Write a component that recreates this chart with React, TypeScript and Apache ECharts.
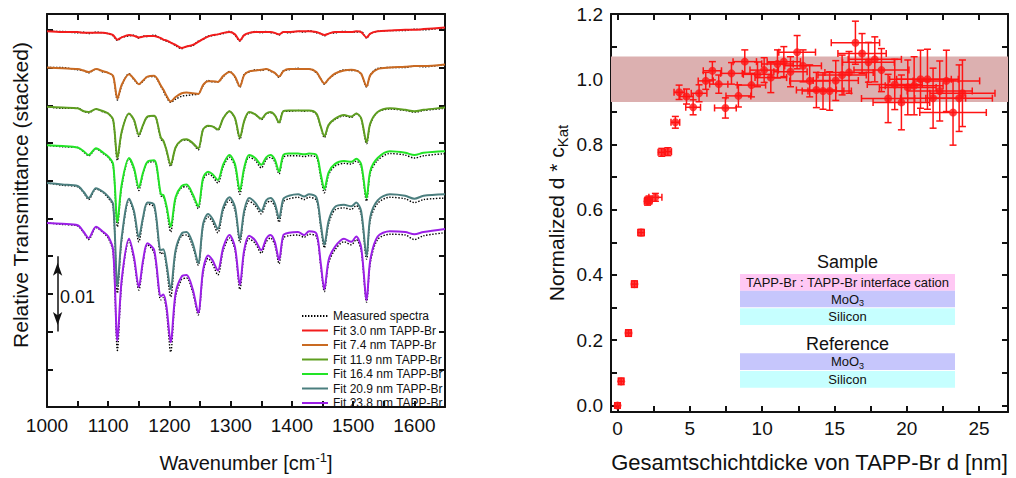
import React, { useEffect, useRef } from 'react';
import * as echarts from 'echarts';

// ---------- Left panel: FTIR spectra (relative transmittance, units of 0.001, stacked) ----------
const wavenumber = [1000,1025,1050,1060,1068,1080,1092,1100,1108,1115,1122,1134,1142,1150,1157,1164,1175,1186,1190,1195,1202,1210,1220,1228,1238,1247,1255,1263,1270,1279,1288,1298,1307,1315,1322,1330,1340,1350,1358,1365,1372,1379,1386,1395,1410,1420,1428,1440,1447,1453,1460,1470,1485,1497,1505,1513,1522,1528,1540,1560,1585,1600,1615,1650];

const fit30 = [49.8,49.7,49.7,49.6,49.6,49.6,49.6,49.5,49.3,48.7, 49.0,49.3,49.2,49.0,49.1,49.2,49.2,48.9,48.7,48.6, 48.3,48.0,47.6,47.8,48.0,48.4,48.8,49.1,49.3,49.4, 49.6,49.7,49.4,48.6,49.3,49.6,49.7,49.7,49.7,49.7, 49.6,49.4,49.7,49.7,49.8,49.8,49.8,49.7,49.5,49.3, 49.5,49.7,49.7,49.7,49.8,49.7,49.0,49.5,49.8,49.9, 50.0,50.0,50.1,50.3];
const meas30 = [49.8,49.8,49.6,49.7,49.5,49.7,49.6,49.5,49.2,48.6, 49.0,49.2,49.3,48.9,49.2,49.1,49.3,48.8,48.7,48.5, 48.3,47.9,47.5,47.8,47.9,48.5,48.7,49.2,49.2,49.4, 49.5,49.8,49.3,48.5,49.3,49.5,49.8,49.6,49.8,49.6, 49.6,49.3,49.7,49.6,49.8,49.7,49.9,49.6,49.5,49.2, 49.5,49.6,49.8,49.7,49.7,49.8,48.9,49.5,49.8,49.9, 49.9,50.1,50.0,50.3];

const fit74 = [45.0,44.9,44.8,44.6,44.4,44.8,44.5,44.3,43.9,40.9, 42.7,44.1,43.5,42.8,43.3,43.8,43.9,42.6,42.1,41.3, 40.5,41.1,41.6,41.7,41.6,41.5,42.7,43.2,43.2,43.1, 43.9,44.4,43.8,42.5,44.0,44.5,44.6,44.7,44.8,44.6, 44.3,43.8,44.5,44.8,44.8,44.8,44.8,44.4,43.5,42.9, 43.5,44.2,44.6,44.7,44.6,44.2,42.5,44.0,44.8,45.0, 45.1,45.2,45.2,45.4];
const meas74 = [45.0,45.0,44.7,44.6,44.3,44.8,44.4,44.3,43.8,40.7, 42.6,44.2,43.4,42.8,43.2,43.8,43.8,42.5,41.9,41.1, 40.4,40.8,41.2,41.3,41.4,41.5,42.6,43.3,43.1,43.1, 43.8,44.5,43.7,42.4,44.1,44.4,44.7,44.6,44.8,44.5, 44.3,43.7,44.6,44.7,44.9,44.8,44.8,44.3,43.5,42.8, 43.5,44.1,44.7,44.6,44.6,44.1,42.4,44.0,44.9,45.0, 45.0,45.2,45.1,45.4];

const fit119 = [39.8,39.7,39.6,39.2,39.1,39.5,39.2,38.9,38.1,33.0, 36.5,38.9,38.1,36.1,37.4,38.5,38.6,35.7,35.3,34.1, 32.1,34.4,35.4,35.5,35.0,34.3,36.8,37.3,37.2,36.8, 38.3,39.2,38.3,35.7,37.9,39.1,38.8,38.2,38.9,39.1, 38.7,37.7,39.2,39.3,39.3,39.3,39.3,38.9,37.2,35.9, 37.4,38.2,38.7,38.5,38.9,38.3,35.1,37.6,39.1,39.6, 39.4,39.2,39.4,39.7];
const meas119 = [39.8,39.6,39.6,39.2,39.0,39.5,39.1,38.9,38.0,32.7, 36.4,38.9,38.0,35.9,37.4,38.4,38.6,35.5,35.2,34.0, 31.9,34.4,35.3,35.4,34.9,34.1,36.8,37.2,37.2,36.7, 38.3,39.2,38.2,35.5,37.9,39.0,38.8,38.1,38.9,39.0, 38.7,37.6,39.2,39.2,39.3,39.2,39.3,38.8,37.1,35.7, 37.4,38.1,38.6,38.4,38.9,38.2,34.9,37.5,39.1,39.5, 39.3,39.1,39.3,39.6];

const fit164 = [34.7,34.6,34.4,33.9,33.4,34.3,33.7,33.2,32.2,24.5, 29.5,33.0,31.7,29.1,31.1,32.5,32.7,28.2,28.1,26.7, 23.9,27.8,29.3,29.5,28.2,26.6,30.4,31.2,30.9,30.1, 32.2,33.4,32.2,28.7,31.7,33.4,33.0,32.1,33.1,33.4, 32.8,31.2,33.4,33.6,33.6,33.5,33.6,33.4,30.9,28.9, 31.1,32.2,32.6,32.5,32.9,32.2,27.7,31.3,33.0,33.9, 33.7,33.4,33.7,33.9];
const meas164 = [34.7,34.5,34.4,33.8,33.3,34.2,33.6,33.1,32.0,23.9, 29.2,32.9,31.5,28.7,31.0,32.4,32.5,28.0,27.9,26.4, 23.2,27.6,29.1,29.2,28.0,26.3,30.1,30.9,30.6,29.7, 31.9,33.1,31.9,28.2,31.4,33.1,32.7,31.7,32.8,33.1, 32.5,30.9,33.1,33.3,33.3,33.2,33.3,33.1,30.5,28.4, 30.8,31.9,32.3,32.2,32.6,31.9,27.3,31.0,32.7,33.6, 33.4,33.0,33.3,33.6];

const fit209 = [29.7,29.5,29.3,28.5,27.7,29.0,28.5,27.9,26.9,16.0, 22.5,27.6,26.0,22.5,25.2,27.1,26.8,20.8,20.9,19.1, 15.6,20.8,23.0,23.2,21.7,19.1,24.3,25.6,25.0,23.6, 26.5,27.8,26.5,22.2,26.0,27.7,27.1,26.0,27.4,27.7, 27.0,25.0,27.6,28.0,28.2,27.9,28.2,27.8,24.3,21.5, 24.7,26.5,26.8,26.6,27.1,26.0,20.0,25.2,27.4,28.2, 28.0,27.6,28.0,28.2];
const meas209 = [29.7,29.4,29.2,28.4,27.5,28.9,28.4,27.7,26.6,15.1, 22.1,27.4,25.7,21.9,25.0,26.9,26.5,20.3,20.5,18.6, 14.6,20.4,22.7,22.8,21.3,18.8,24.0,25.2,24.6,23.1, 26.1,27.4,26.1,21.8,25.6,27.3,26.7,25.6,27.0,27.3, 26.6,24.5,27.2,27.6,27.8,27.5,27.8,27.4,23.9,21.1, 24.3,26.1,26.4,26.2,26.7,25.6,19.6,24.8,27.0,27.8, 27.6,27.1,27.5,27.7];

const fit238 = [24.4,24.3,24.1,23.2,22.4,23.9,23.2,22.6,20.8,8.8, 16.9,22.3,19.9,15.9,19.5,21.7,20.8,14.7,14.9,13.4, 8.6,15.1,17.3,17.5,15.6,12.5,18.2,20.1,19.5,18.1, 21.2,22.8,21.2,16.2,20.8,22.7,22.1,20.8,22.3,22.8, 21.9,19.5,22.8,23.1,23.2,22.8,23.3,23.0,19.1,15.6, 19.5,21.2,22.3,21.9,22.6,21.2,14.2,19.5,22.6,23.3, 23.2,22.9,23.2,23.6];
const meas238 = [24.4,24.2,24.0,23.1,22.2,23.8,23.1,22.4,20.5,7.5, 16.4,22.1,19.5,15.5,19.2,21.5,20.4,14.2,14.5,12.8, 7.3,14.6,16.9,17.1,15.2,12.2,17.8,19.7,19.0,17.5, 20.8,22.4,20.8,15.6,20.4,22.3,21.7,20.4,21.9,22.4, 21.5,19.0,22.4,22.7,22.8,22.5,22.9,22.6,18.7,15.3, 19.1,20.8,21.9,21.5,22.2,20.8,13.9,19.1,22.2,22.9, 22.8,22.2,22.7,23.1];

const fitNames = ['Fit 3.0 nm TAPP-Br','Fit 7.4 nm TAPP-Br','Fit 11.9 nm TAPP-Br','Fit 16.4 nm TAPP-Br','Fit 20.9 nm TAPP-Br','Fit 23.8 nm TAPP-Br'];
const fitColors = ['#f21c1c','#c96a22','#5e9e20','#22e426','#4b7e7e','#9b1fe6'];
const fitData = [fit30, fit74, fit119, fit164, fit209, fit238];
const measData = [meas30, meas74, meas119, meas164, meas209, meas238];

const wnLabels = [1000,1100,1200,1300,1400,1500,1600];
const wnTicks = [1050,1100,1150,1200,1250,1300,1350,1400,1450,1500,1550,1600];
const transTicks = [5,10,15,20,25,30,35,40,45,50];
const scaleBar = [20, 10]; // 0.01 arrow ends (units of 0.001)

// ---------- Right panel ----------
const thickness = [0.0,0.25,0.76,1.17,1.63,2.08,2.18,2.62,3.06,3.48,4.0, 4.26,4.77,5.23,5.64,6.10,6.56,7.00,7.46,7.88,8.36, 8.80,9.26,9.68,10.14,10.60,11.06,11.50,11.96,12.42,12.83, 13.29,13.75,14.21,14.67,15.09,15.53,16.01,16.45,16.91,17.35, 17.79,18.25,18.71,19.17,19.63,20.07,20.51,20.95,21.43,21.82, 22.28,22.74,23.20,23.62,23.85];
const normDC = [0.0,0.074,0.222,0.372,0.530,0.626,0.630,0.638,0.776,0.778,0.868, 0.960,0.947,0.914,0.957,0.995,1.026,0.985,0.912,1.018,0.949, 1.054,0.982,1.015,1.028,1.005,1.047,1.054,1.023,1.083,1.041, 0.995,0.967,0.964,0.964,0.996,1.013,1.021,1.112,1.079,1.052, 1.061,1.028,0.941,0.984,0.929,0.975,0.980,1.000,1.000,0.942, 0.964,0.995,0.898,0.942,0.957];
const thicknessErr = [0.18,0.18,0.2,0.2,0.22,0.22,0.22,0.45,0.25,0.25,0.3, 0.35,0.46,0.51,0.54,0.52,0.63,0.63,0.75,0.75,0.86, 0.81,0.98,0.98,0.98,1.09,1.09,1.15,1.15,1.27,1.27, 1.38,1.38,1.44,1.5,1.56,1.67,1.67,1.67,1.67,1.79, 1.84,1.9,1.84,1.9,1.96,1.96,2.0,2.13,2.13,2.25, 2.25,2.3,2.3,2.3,2.25];
const normErr = [0.008,0.01,0.01,0.01,0.01,0.012,0.012,0.012,0.012,0.012,0.018, 0.022,0.023,0.023,0.026,0.026,0.028,0.028,0.031,0.033,0.034, 0.036,0.036,0.038,0.038,0.046,0.043,0.046,0.046,0.051,0.049, 0.049,0.054,0.056,0.059,0.061,0.061,0.064,0.066,0.061,0.061, 0.069,0.066,0.074,0.077,0.084,0.084,0.089,0.089,0.092,0.092, 0.092,0.094,0.1,0.102,0.102];
const bulkBand = [0.93, 1.07];

const dLabels = [0,5,10,15,20,25];
const dTicks = [0,2.5,5,7.5,10,12.5,15,17.5,20,22.5,25];
const yLabels = [0,0.2,0.4,0.6,0.8,1.0,1.2];
const yTicks = [0,0.1,0.2,0.3,0.4,0.5,0.6,0.7,0.8,0.9,1.0,1.1];

const FONT = "'Liberation Sans', Arial, Helvetica, sans-serif";
const INK = '#111';
const RED = '#ff1414';

export default function App() {
  const ref = useRef<HTMLDivElement>(null);
  useEffect(() => {
    document.body.style.margin = '0';
    const chart = echarts.init(ref.current!, null, { renderer: 'svg' });

    const axisLine = { show: true, onZero: false, lineStyle: { color: INK, width: 2 } };
    const tick = (vals: number[]) => ({ show: true, inside: true, length: 6, customValues: vals, lineStyle: { color: INK, width: 2 } });
    const noLabel = { show: false };

    const measSeries = measData.map((arr) => ({
      name: 'Measured spectra', type: 'line', xAxisIndex: 0, yAxisIndex: 0,
      data: wavenumber.map((w, i) => [w, arr[i]]), symbol: 'none', smooth: 0.3, z: 2,
      lineStyle: { color: '#000', width: 1.4, type: [1.4, 1.6] }, itemStyle: { color: '#000' },
      emphasis: { disabled: true }, silent: true,
    }));
    const fitSeries = fitData.map((arr, k) => ({
      name: fitNames[k], type: 'line', xAxisIndex: 0, yAxisIndex: 0,
      data: wavenumber.map((w, i) => [w, arr[i]]), symbol: 'none', smooth: 0.3, z: 3,
      lineStyle: { color: fitColors[k], width: 2 }, itemStyle: { color: fitColors[k] },
      emphasis: { disabled: true }, silent: true,
      ...(k === 0 ? {
        markLine: {
          silent: true, symbol: ['arrow', 'arrow'], symbolSize: [7, 13], symbolOffset: [[0, 6.5], [0, 6.5]],
          lineStyle: { color: INK, width: 1.5, type: 'solid' }, label: { show: false },
          emphasis: { disabled: true },
          data: [[{ coord: [1017.3, scaleBar[0]] }, { coord: [1017.3, scaleBar[1]] }]],
        },
      } : {}),
    }));

    const errData = thickness.map((t, i) => [t, normDC[i], thicknessErr[i], normErr[i]]);

    const boxX = 740, boxW = 215;
    const box = (y: number, h: number, color: string) => ({ type: 'rect', shape: { x: boxX, y, width: boxW, height: h }, style: { fill: color }, silent: true });
    const subText = (main: string, sub: string, y: number) => ({
      type: 'text', x: boxX + boxW / 2, y: y + 1, silent: true,
      style: {
        text: `{a|${main}}{b|${sub}}`, align: 'center', verticalAlign: 'middle',
        rich: {
          a: { fontSize: 13, lineHeight: 15, verticalAlign: 'top', fontFamily: FONT, fill: INK },
          b: { fontSize: 9, lineHeight: 9, verticalAlign: 'bottom', fontFamily: FONT, fill: INK },
        },
      },
    });
    const plainText = (t: string, y: number, size: number) => ({
      type: 'text', x: boxX + boxW / 2, y, silent: true,
      style: { text: t, fontSize: size, fontFamily: FONT, fill: INK, align: 'center', verticalAlign: 'middle' },
    });

    const option: any = {
      animation: false,
      backgroundColor: '#fff',
      textStyle: { fontFamily: FONT },
      grid: [
        { left: 47, right: 571, top: 14, bottom: 66 },
        { left: 611, right: 8, top: 14, bottom: 66 },
      ],
      legend: {
        data: ['Measured spectra', ...fitNames], orient: 'vertical', left: 296, top: 305,
        itemWidth: 26, itemHeight: 10, itemGap: 2.5, selectedMode: false,
        itemStyle: { opacity: 0 },
        textStyle: { fontSize: 12, lineHeight: 12, color: INK, fontFamily: FONT },
      },
      xAxis: [
        {
          type: 'value', gridIndex: 0, min: 1000, max: 1650, position: 'bottom',
          axisLine, axisTick: tick(wnTicks), splitLine: { show: false },
          axisLabel: { customValues: wnLabels, fontSize: 19, color: INK, margin: 9, fontFamily: FONT, formatter: (v: number) => String(v) },
          name: '{a|Wavenumber [cm}{s|-1}{a|]}', nameLocation: 'middle', nameGap: 44,
          nameTextStyle: { rich: {
            a: { fontSize: 20, lineHeight: 22, verticalAlign: 'bottom', fontFamily: FONT, color: INK },
            s: { fontSize: 13, lineHeight: 13, verticalAlign: 'top', fontFamily: FONT, color: INK },
          } },
        },
        {
          type: 'value', gridIndex: 0, min: 1000, max: 1650, position: 'top',
          axisLine, axisTick: tick(wnTicks), splitLine: { show: false }, axisLabel: noLabel,
        },
        {
          type: 'value', gridIndex: 1, min: -0.45, max: 27, position: 'bottom',
          axisLine, axisTick: tick(dTicks), splitLine: { show: false },
          axisLabel: { customValues: dLabels, fontSize: 19, color: INK, margin: 7, fontFamily: FONT },
          name: 'Gesamtschichtdicke von TAPP-Br d [nm]', nameLocation: 'middle', nameGap: 39,
          nameTextStyle: { fontSize: 22, color: INK, fontFamily: FONT },
        },
        {
          type: 'value', gridIndex: 1, min: -0.45, max: 27, position: 'top',
          axisLine, axisTick: tick(dTicks), splitLine: { show: false }, axisLabel: noLabel,
        },
      ],
      yAxis: [
        {
          type: 'value', gridIndex: 0, min: 0, max: 52.1, position: 'left',
          axisLine, axisTick: tick(transTicks), splitLine: { show: false }, axisLabel: noLabel,
          name: 'Relative Transmittance (stacked)', nameLocation: 'middle', nameGap: 16,
          nameTextStyle: { fontSize: 21, color: INK, fontFamily: FONT, padding: [0, 0, 0, 31] },
        },
        {
          type: 'value', gridIndex: 0, min: 0, max: 52.1, position: 'right',
          axisLine, axisTick: tick(transTicks), splitLine: { show: false }, axisLabel: noLabel,
        },
        {
          type: 'value', gridIndex: 1, min: -0.02, max: 1.2, position: 'left',
          axisLine, axisTick: tick(yTicks), splitLine: { show: false },
          axisLabel: { customValues: yLabels, fontSize: 19, color: INK, margin: 8, fontFamily: FONT, formatter: (v: number) => v.toFixed(1) },
          name: '{a|Normalized d * c}{b|Kat}', nameLocation: 'middle', nameGap: 41,
          nameTextStyle: { rich: {
            a: { fontSize: 21, lineHeight: 24, verticalAlign: 'top', fontFamily: FONT, color: INK },
            b: { fontSize: 15, lineHeight: 15, verticalAlign: 'bottom', fontFamily: FONT, color: INK },
          } },
        },
        {
          type: 'value', gridIndex: 1, min: -0.02, max: 1.2, position: 'right',
          axisLine, axisTick: tick(yTicks), splitLine: { show: false }, axisLabel: noLabel,
        },
      ],
      series: [
        ...measSeries,
        ...fitSeries,
        {
          name: 'error bars', type: 'custom', xAxisIndex: 2, yAxisIndex: 2, z: 2,
          data: errData, encode: { x: 0, y: 1 }, silent: true,
          renderItem: (_p: any, api: any) => {
            const x = api.value(0), y = api.value(1), xe = api.value(2), ye = api.value(3);
            const l = api.coord([x - xe, y]);
            const r = api.coord([x + xe, y]);
            const t = api.coord([x, y + ye]);
            const b = api.coord([x, y - ye]);
            const c = 3.5;
            const style = { stroke: RED, lineWidth: 1.5 };
            const ln = (x1: number, y1: number, x2: number, y2: number) => ({ type: 'line', shape: { x1, y1, x2, y2 }, style });
            return {
              type: 'group',
              children: [
                ln(l[0], l[1], r[0], r[1]),
                ln(t[0], t[1], b[0], b[1]),
                ln(l[0], l[1] - c, l[0], l[1] + c),
                ln(r[0], r[1] - c, r[0], r[1] + c),
                ln(t[0] - c, t[1], t[0] + c, t[1]),
                ln(b[0] - c, b[1], b[0] + c, b[1]),
              ],
            };
          },
        },
        {
          name: 'Normalized d * cKat', type: 'scatter', xAxisIndex: 2, yAxisIndex: 2, z: 3,
          data: thickness.map((t, i) => [t, normDC[i]]), symbol: 'circle', symbolSize: 8,
          itemStyle: { color: RED }, silent: true,
          markArea: {
            silent: true, itemStyle: { color: '#dcb0b0' },
            data: [[{ yAxis: bulkBand[0] }, { yAxis: bulkBand[1] }]],
          },
        },
      ],
      graphic: [
        { type: 'text', x: 60, y: 297, silent: true, style: { text: '0.01', fontSize: 18, fontFamily: FONT, fill: INK, verticalAlign: 'middle' } },
        plainText('Sample', 262, 18),
        box(274, 16.7, '#ffc8f4'),
        box(290.7, 16.6, '#c6c6fc'),
        box(308.3, 16.7, '#c6ffff'),
        plainText('TAPP-Br : TAPP-Br interface cation', 282.5, 13),
        subText('MoO', '3', 299),
        plainText('Silicon', 316.8, 13),
        plainText('Reference', 344, 18),
        box(353.3, 16.7, '#c6c6fc'),
        box(371, 16.7, '#c6ffff'),
        subText('MoO', '3', 361.7),
        plainText('Silicon', 379.5, 13),
      ],
    };

    chart.setOption(option);
    return () => chart.dispose();
  }, []);
  return <div ref={ref} style={{ width: 1016, height: 478 }} />;
}
